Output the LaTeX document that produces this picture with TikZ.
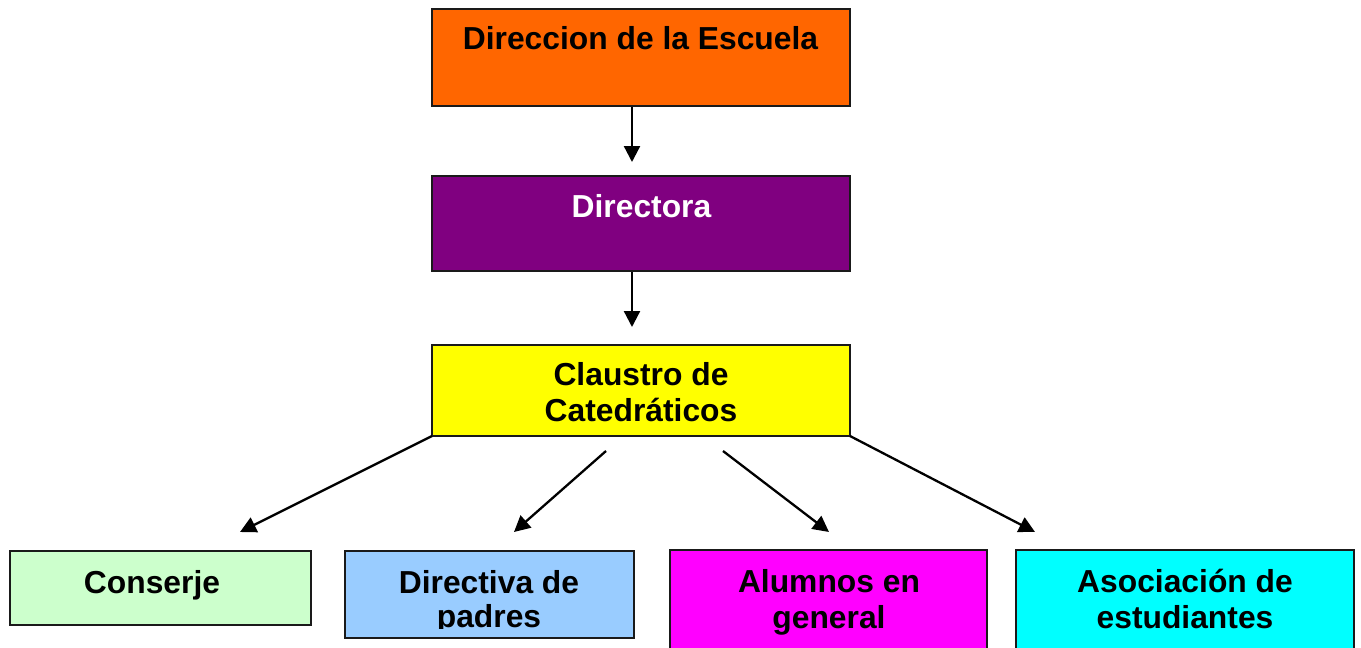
\documentclass[tikz,border=0pt]{standalone}
\usepackage{fontspec}
\setmainfont{Liberation Sans}
\usetikzlibrary{arrows.meta,calc}
\definecolor{cOrange}{HTML}{FF6600}
\definecolor{cPurple}{HTML}{800080}
\definecolor{cYellow}{HTML}{FFFF00}
\definecolor{cGreen}{HTML}{CCFFCC}
\definecolor{cBlue}{HTML}{99CCFF}
\definecolor{cMagenta}{HTML}{FF00FF}
\definecolor{cCyan}{HTML}{00FFFF}
\definecolor{cBorder}{HTML}{1A1A1A}
\begin{document}
\begin{tikzpicture}[x=1pt,y=-1pt,
  box/.style={draw=cBorder, line width=1.5pt, anchor=north west, inner sep=0pt, outer sep=0pt},
  lbl/.style={anchor=base, inner sep=0pt, align=center, font=\fontsize{31.8}{35}\selectfont\bfseries},
  conn/.style={line width=2.3pt, -{Triangle[length=16pt,width=16pt]}}]
\useasboundingbox (0,0) rectangle (1361,648);
\clip (0,0) rectangle (1361,648);
% boxes
\node[box, fill=cOrange, minimum width=418pt, minimum height=97pt] (esc) at (432,9) {};
\node[box, fill=cPurple, minimum width=418pt, minimum height=95pt] (dra) at (432,176) {};
\node[box, fill=cYellow, minimum width=418pt, minimum height=91pt] (cla) at (432,345) {};
\node[box, fill=cGreen, minimum width=301pt, minimum height=74pt] (con) at (10,551) {};
\node[box, fill=cBlue, minimum width=289pt, minimum height=87pt] (dpa) at (345,551) {};
\node[box, fill=cMagenta, minimum width=317pt, minimum height=120pt] (alu) at (670,550) {};
\node[box, fill=cCyan, minimum width=338pt, minimum height=120pt] (aso) at (1016,550) {};
% labels (multi-line: base anchor is the last line's baseline)
\node[lbl] (tesc) at (640.5,49) {Direccion de la Escuela};
\node[lbl, text=white] (tdra) at (641.5,217) {Directora};
\node[lbl, font=\fontsize{31.8}{36}\selectfont\bfseries] (tcla) at (641,421) {Claustro de\\Catedráticos};
\node[lbl] (tcon) at (152,593) {Conserje};
\begin{scope}
\clip (346,552) rectangle (633,628);
\node[lbl, font=\fontsize{31.8}{34}\selectfont\bfseries] (tdpa) at (489,627) {Directiva de\\padres};
\end{scope}
\node[lbl, font=\fontsize{31.8}{36}\selectfont\bfseries] (talu) at (829,628) {Alumnos en\\general};
\node[lbl, font=\fontsize{31.8}{36}\selectfont\bfseries] (taso) at (1185,628) {Asociación de\\estudiantes};
% connector ends
\coordinate (e1) at (632,162);
\coordinate (e2) at (632,327);
\coordinate (s3) at (606,451);
\coordinate (s4) at (723,451);
\coordinate (f1) at (240,532);
\coordinate (f2) at (514,532);
\coordinate (f3) at (829,532);
\coordinate (f4) at (1035,532);
% connectors
\draw[conn] ($(esc.south)+(-9,1)$) -- (e1);
\draw[conn] ($(dra.south)+(-9,1)$) -- (e2);
\draw[conn] (cla.south west) -- (f1);
\draw[conn] (s3) -- (f2);
\draw[conn] (s4) -- (f3);
\draw[conn] (cla.south east) -- (f4);
\end{tikzpicture}
\end{document}
